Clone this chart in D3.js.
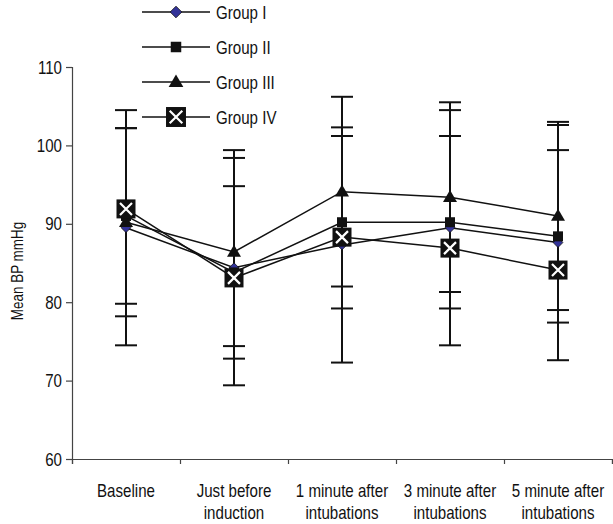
<!DOCTYPE html>
<html>
<head>
<meta charset="utf-8">
<script src="https://cdn.jsdelivr.net/npm/d3@7/dist/d3.min.js"></script>
<style>
  body { margin: 0; background: #fff; }
  text { font-family: "Liberation Sans", Arial, sans-serif; fill: #111; }
</style>
</head>
<body>
<svg></svg>
<script>
const categories = ["Baseline", "Just before|induction", "1 minute after|intubations", "3 minute after|intubations", "5 minute after|intubations"];
const groups = ["Group I", "Group II", "Group III", "Group IV"];

// mean BP per group
const groupI = [89.5, 84.4, 87.3, 89.5, 87.6];
const groupII = [91.0, 83.8, 90.2, 90.2, 88.4];
const groupIII = [90.2, 86.4, 94.1, 93.4, 91.0];
const groupIV = [91.9, 83.1, 88.3, 86.9, 84.1];

// SD error bars (group IV has none)
const sdI = [15, 15, 15, 15, 15];
const sdII = [11.2, 11, 11, 11, 11];
const sdIII = [12, 12, 12.1, 12.1, 12];

const yTicks = [60, 70, 80, 90, 100, 110];

const width = 613;
const height = 524;
const narrow = 0.84; // the original uses a condensed face
const svg = d3.select("svg")
    .attr("width", width)
    .attr("height", height);

const margin = { top: 67, right: 1, bottom: 65, left: 72 };

const x = d3.scaleBand()
    .domain(categories)
    .range([margin.left, width - margin.right]);

const xEdges = d3.scaleLinear()
    .domain([0, categories.length])
    .range([margin.left, width - margin.right]);

const y = d3.scaleLinear()
    .domain([60, 110])
    .range([height - margin.bottom, margin.top]);

const cx = c => x(c) + x.bandwidth() / 2;

const series = [
    { name: groups[0], values: groupI, sd: sdI, marker: "diamond" },
    { name: groups[1], values: groupII, sd: sdII, marker: "square" },
    { name: groups[2], values: groupIII, sd: sdIII, marker: "triangle" },
    { name: groups[3], values: groupIV, sd: null, marker: "xbox" }
];

// condensed text: place at (tx,ty) then squeeze horizontally
function label(g, tx, ty, str, size, anchor) {
    return g.append("text")
        .attr("transform", `translate(${tx},${ty}) scale(${narrow},1)`)
        .attr("text-anchor", anchor || "start")
        .style("font-size", size + "px")
        .text(str);
}

// axes
const yAxis = svg.append("g")
    .attr("transform", `translate(${margin.left},0)`)
    .call(d3.axisLeft(y).tickValues(yTicks).tickSize(6).tickFormat(""));
yAxis.select(".domain").attr("stroke", "#444").attr("stroke-width", 1.2);
yAxis.selectAll(".tick line").attr("stroke", "#444").attr("stroke-width", 1.2);
yTicks.forEach(t => label(svg, margin.left - 10, y(t) + 6.5, t, 18, "end"));

const xAxis = svg.append("g")
    .attr("transform", `translate(0,${height - margin.bottom})`)
    .call(d3.axisBottom(xEdges).tickValues(d3.range(categories.length + 1)).tickSize(5).tickFormat(""));
xAxis.select(".domain").attr("stroke", "#444").attr("stroke-width", 1.2);
xAxis.selectAll(".tick line").attr("stroke", "#444").attr("stroke-width", 1.2);

categories.forEach(c => {
    c.split("|").forEach((ln, i) => {
        label(svg, cx(c), height - margin.bottom + 38 + i * 22, ln, 18, "middle");
    });
});

svg.append("text")
    .attr("transform", `translate(23,${(y(60) + y(110)) / 2 + 8}) rotate(-90) scale(${narrow},1)`)
    .attr("text-anchor", "middle")
    .style("font-size", "16px")
    .text("Mean BP mmHg");

// lines
const line = d3.line()
    .x((d, i) => cx(categories[i]))
    .y(d => y(d));

series.forEach(s => {
    svg.append("path")
        .datum(s.values)
        .attr("fill", "none")
        .attr("stroke", "#111")
        .attr("stroke-width", 1.5)
        .attr("d", line);
});

// error bars
series.filter(s => s.sd).forEach(s => {
    const g = svg.append("g").attr("stroke", "#111").attr("stroke-width", 2);
    s.values.forEach((v, i) => {
        const px = cx(categories[i]);
        const lo = y(v - s.sd[i]);
        const hi = y(v + s.sd[i]);
        g.append("line").attr("x1", px).attr("x2", px).attr("y1", lo).attr("y2", hi);
        g.append("line").attr("x1", px - 11).attr("x2", px + 11).attr("y1", lo).attr("y2", lo);
        g.append("line").attr("x1", px - 11).attr("x2", px + 11).attr("y1", hi).attr("y2", hi);
    });
});

function drawMarker(g, type, px, py, scale) {
    const k = scale || 1;
    if (type === "diamond") {
        g.append("path")
            .attr("d", d3.symbol(d3.symbolDiamond2 || d3.symbolDiamond, 60 * k * k)())
            .attr("transform", `translate(${px},${py})`)
            .attr("fill", "#333399")
            .attr("stroke", "#111")
            .attr("stroke-width", 0.8);
    } else if (type === "square") {
        const s = 10 * k;
        g.append("rect")
            .attr("x", px - s / 2).attr("y", py - s / 2)
            .attr("width", s).attr("height", s)
            .attr("fill", "#111");
    } else if (type === "triangle") {
        const w = 14 * k, h = 12 * k;
        g.append("path")
            .attr("d", `M${px},${py - h * 0.6}L${px + w / 2},${py + h * 0.4}L${px - w / 2},${py + h * 0.4}Z`)
            .attr("fill", "#111");
    } else if (type === "xbox") {
        const s = 19 * k, a = 6 * k;
        g.append("rect")
            .attr("x", px - s / 2).attr("y", py - s / 2)
            .attr("width", s).attr("height", s)
            .attr("fill", "#111");
        g.append("path")
            .attr("d", `M${px - a},${py - a}L${px + a},${py + a}M${px + a},${py - a}L${px - a},${py + a}`)
            .attr("stroke", "#fff")
            .attr("stroke-width", 2.2);
    }
}

const markers = svg.append("g");
series.forEach(s => {
    s.values.forEach((v, i) => drawMarker(markers, s.marker, cx(categories[i]), y(v)));
});

// legend
const legendY = [12, 47, 82, 117];
const legend = svg.append("g");
series.forEach((s, i) => {
    const ly = legendY[i];
    legend.append("line")
        .attr("x1", 142).attr("x2", 210)
        .attr("y1", ly).attr("y2", ly)
        .attr("stroke", "#111").attr("stroke-width", 1.5);
    drawMarker(legend, s.marker, 176, ly, s.marker === "diamond" ? 1.2 : 1.05);
    label(legend, 216, ly + 7, s.name, 18, "start");
});
</script>
</body>
</html>
